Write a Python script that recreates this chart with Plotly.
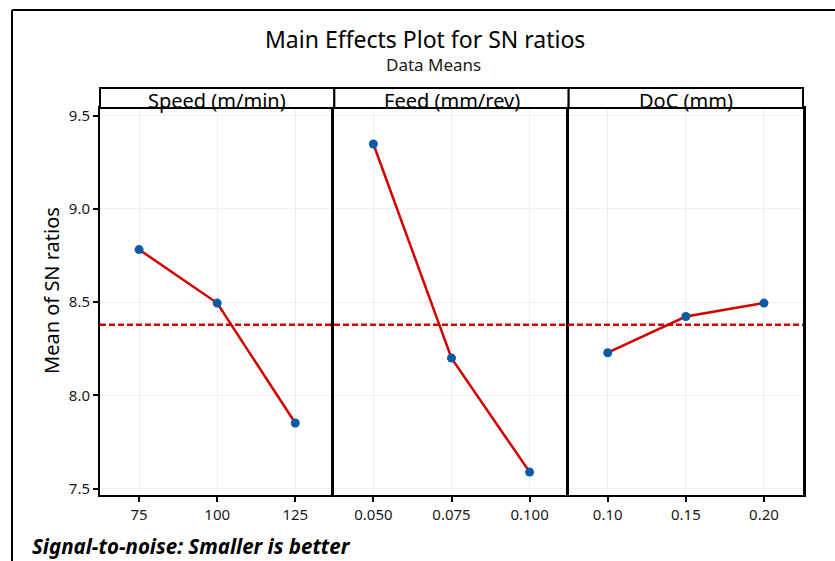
import plotly.graph_objects as go

# Factor levels and mean SN ratios (dB) for each factor
speed_levels = [75, 100, 125]
speed_sn = [8.782, 8.495, 7.852]

feed_levels = [0.050, 0.075, 0.100]
feed_sn = [9.348, 8.200, 7.589]

doc_levels = [0.10, 0.15, 0.20]
doc_sn = [8.229, 8.423, 8.495]

panel_titles = ["Speed (m/min)", "Feed (mm/rev)", "DoC (mm)"]
speed_ticks = ["75", "100", "125"]
feed_ticks = ["0.050", "0.075", "0.100"]
doc_ticks = ["0.10", "0.15", "0.20"]
y_ticks = [7.5, 8.0, 8.5, 9.0, 9.5]

grand_mean = sum(speed_sn + feed_sn + doc_sn) / 9

W, H = 835, 561
ML, MR, MT, MB = 100, 32, 108, 66
PW = W - ML - MR
PH = H - MT - MB


def px_x(p):
    return (p - ML) / PW


def px_y(p):
    return (H - MB - p) / PH


FONT = "Noto Sans"
LINE_RED = "#d40000"
DOT_BLUE = "#0a5aa8"
GRID = "#efefef"

fig = go.Figure()

panels = [
    (speed_levels, speed_sn, speed_ticks, [62.5, 137.5]),
    (feed_levels, feed_sn, feed_ticks, [0.0375, 0.1125]),
    (doc_levels, doc_sn, doc_ticks, [0.075, 0.225]),
]

for i, (lv, sn, tk, rng) in enumerate(panels):
    n = "" if i == 0 else str(i + 1)
    fig.add_trace(go.Scatter(
        x=lv, y=sn, xaxis="x" + n, yaxis="y" + n, mode="lines+markers",
        line=dict(color=LINE_RED, width=2.5),
        marker=dict(color=DOT_BLUE, size=9),
        showlegend=False, hoverinfo="x+y",
    ))
    d0, d1 = i / 3, (i + 1) / 3
    fig.layout["xaxis" + n] = dict(
        domain=[d0, d1], range=rng, anchor="y" + n,
        tickvals=lv, ticktext=tk,
        showgrid=True, gridcolor=GRID, gridwidth=1, zeroline=False,
        showline=True, linecolor="black", linewidth=2, mirror=True,
        ticks="outside", ticklen=5, tickwidth=2, tickcolor="black",
        tickfont=dict(family=FONT, size=15, color="#1a1a1a"),
    )
    # each panel draws its own left edge; the last one also closes the right edge
    ydict = dict(
        range=[7.466, 9.541], anchor="x" + n, domain=[0, 1],
        tickvals=y_ticks,
        showgrid=True, gridcolor=GRID, gridwidth=1, zeroline=False,
        showline=True, linecolor="black",
        linewidth=2 if i == 0 else 2.5, mirror=(i == 2),
        tickfont=dict(family=FONT, size=15, color="#1a1a1a"),
    )
    if i == 0:
        ydict.update(ticks="outside", ticklen=5, tickwidth=2, tickcolor="black",
                     tickformat=".1f")
    else:
        ydict.update(matches="y", showticklabels=False, ticks="")
    fig.layout["yaxis" + n] = ydict

    # strip header above each panel
    fig.add_shape(type="rect", xref="paper", yref="paper",
                  x0=d0, x1=d1, y0=1, y1=px_y(88),
                  line=dict(color="black", width=2), fillcolor="white")
    fig.add_annotation(text=panel_titles[i], xref="paper", yref="paper",
                       x=(d0 + d1) / 2, y=px_y(100), showarrow=False,
                       xanchor="center", yanchor="middle",
                       font=dict(family=FONT, size=20, color="black"))

# reference line at the overall mean
fig.add_shape(type="line", xref="paper", yref="y", x0=0, x1=1,
              y0=grand_mean, y1=grand_mean,
              line=dict(color=LINE_RED, width=2.5, dash="6px,3px"))

# outer frame (left and top edges)
fig.add_shape(type="line", xref="paper", yref="paper",
              x0=px_x(12), x1=px_x(12), y0=px_y(H + 5), y1=px_y(10),
              line=dict(color="black", width=2))
fig.add_shape(type="line", xref="paper", yref="paper",
              x0=px_x(12), x1=px_x(W + 5), y0=px_y(10), y1=px_y(10),
              line=dict(color="black", width=2))

fig.add_annotation(text="Main Effects Plot for SN ratios", xref="paper", yref="paper",
                   x=px_x(425), y=px_y(39), showarrow=False,
                   xanchor="center", yanchor="middle",
                   font=dict(family=FONT, size=23, color="black"))
fig.add_annotation(text="Data Means", xref="paper", yref="paper",
                   x=px_x(433), y=px_y(65), showarrow=False,
                   xanchor="center", yanchor="middle",
                   font=dict(family=FONT, size=17, color="#1a1a1a"))
fig.add_annotation(text="Mean of SN ratios", xref="paper", yref="paper",
                   x=px_x(51), y=px_y(291), showarrow=False, textangle=-90,
                   xanchor="center", yanchor="middle",
                   font=dict(family=FONT, size=20, color="black"))
fig.add_annotation(text="<b><i>Signal-to-noise: Smaller is better</i></b>",
                   xref="paper", yref="paper", x=px_x(30), y=px_y(546),
                   xanchor="left", yanchor="middle", showarrow=False,
                   font=dict(family=FONT, size=20.5, color="black"))

fig.update_layout(
    width=W, height=H,
    margin=dict(l=ML, r=MR, t=MT, b=MB),
    paper_bgcolor="white", plot_bgcolor="white",
    showlegend=False,
)

fig.write_html("out.html")
